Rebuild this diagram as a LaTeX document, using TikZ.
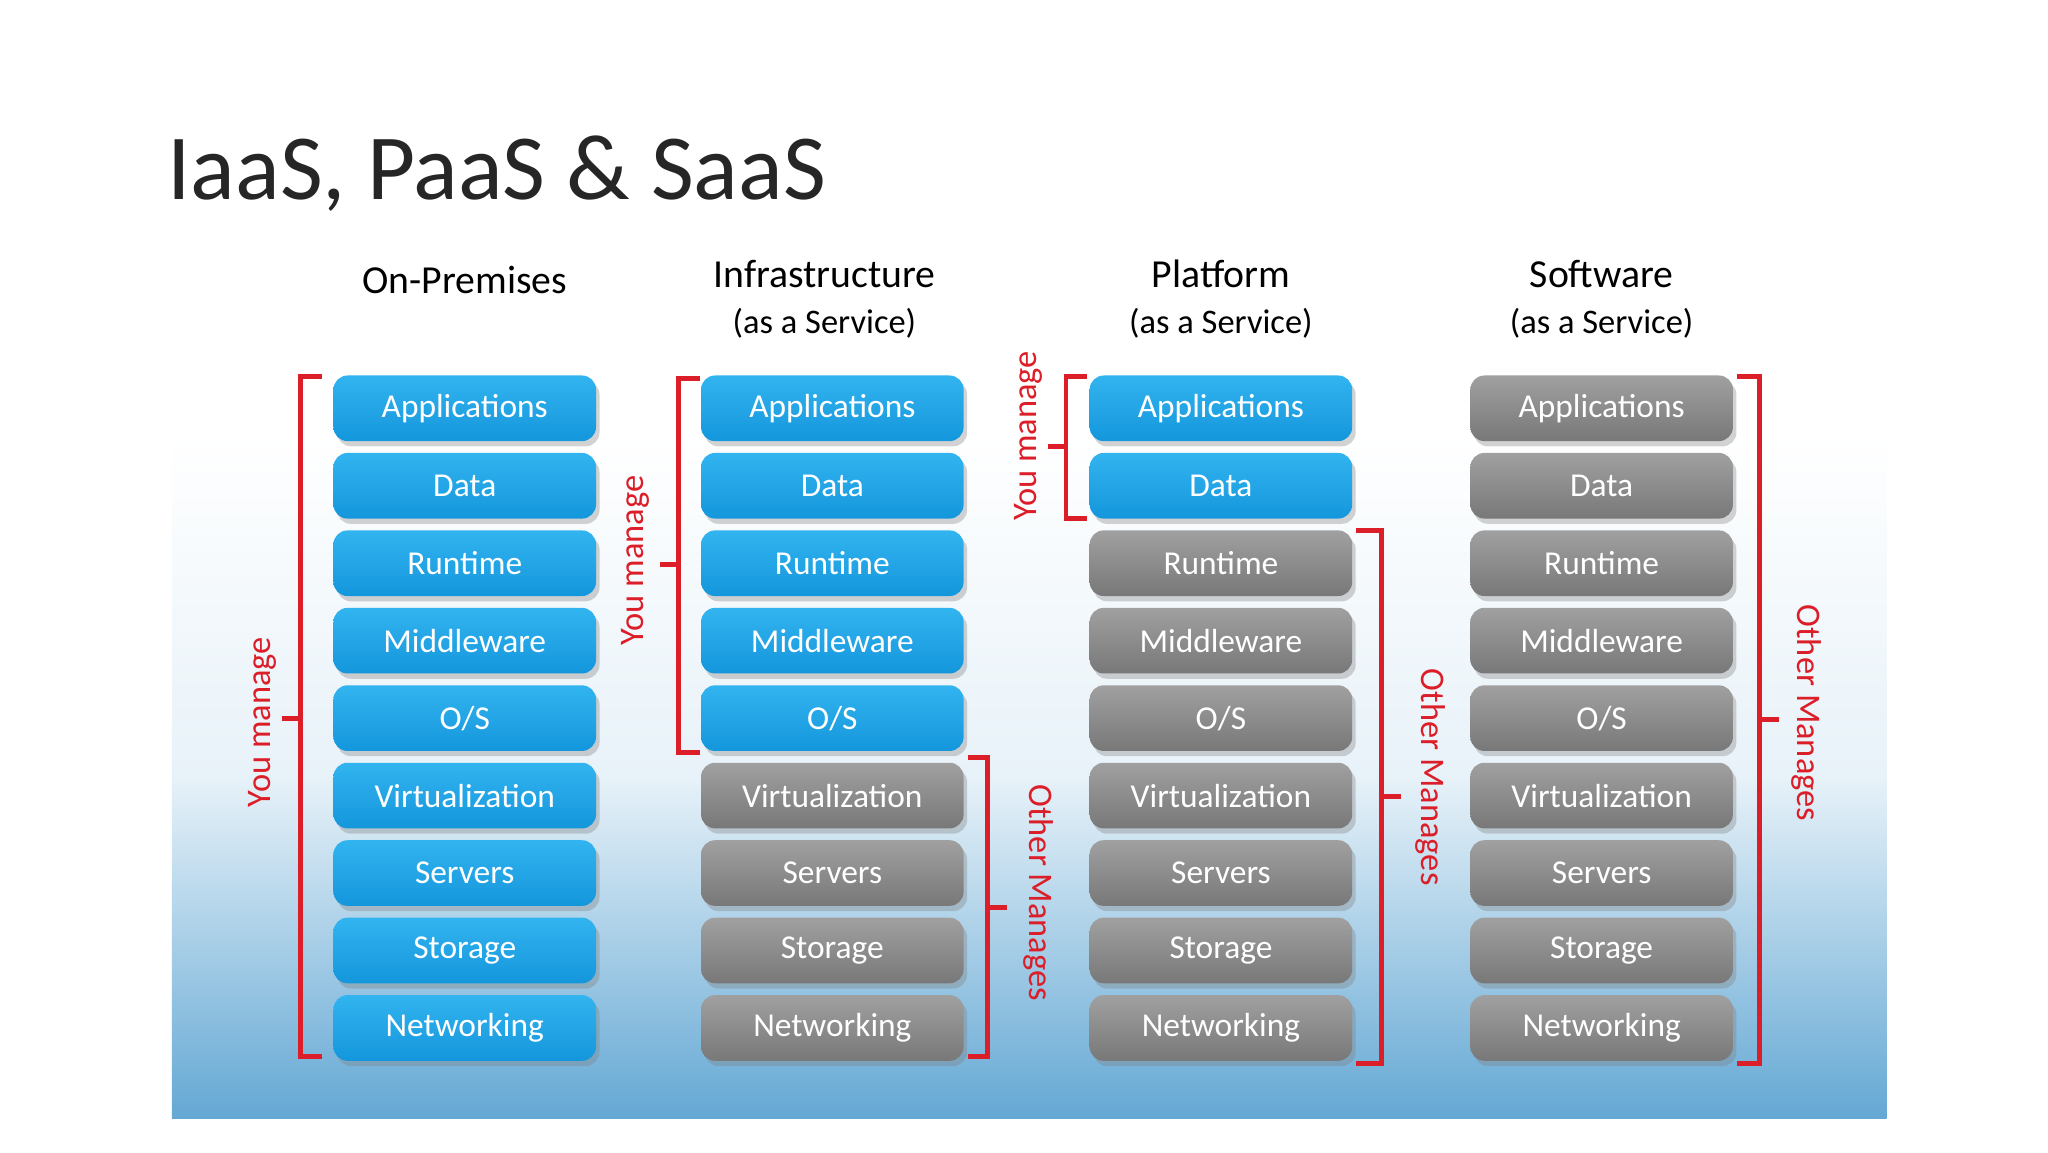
\documentclass[tikz,border=0pt]{standalone}
\usepackage{fontspec}
\setmainfont{Carlito}
\usetikzlibrary{shadows}
\definecolor{boxblue}{RGB}{20,150,220}
\definecolor{boxbluetop}{RGB}{50,180,240}
\definecolor{boxgray}{RGB}{120,120,120}
\definecolor{boxgraytop}{RGB}{160,160,160}
\definecolor{bgblue}{RGB}{100,168,212}
\definecolor{brred}{RGB}{220,30,40}
\begin{document}
\begin{tikzpicture}[x=0.013128cm,y=-0.013128cm,
  layer/.style={rounded corners=4pt,minimum width=200*0.013128cm,minimum height=50*0.013128cm,
    text=white,font=\fontsize{9.5}{11}\selectfont,drop shadow={opacity=0.35,shadow xshift=1pt,shadow yshift=-1.5pt}},
  blue layer/.style={layer,top color=boxbluetop,bottom color=boxblue},
  gray layer/.style={layer,top color=boxgraytop,bottom color=boxgray},
  bracket/.style={draw=brred,line width=1.4pt},
  blab/.style={text=brred,font=\fontsize{9.8}{11}\selectfont},
  head/.style={font=\fontsize{11.3}{12}\selectfont,align=center}]
\useasboundingbox (0,0) rectangle (1560,877.5);
\node[anchor=base west,font=\fontsize{26.5}{30}\selectfont,text=black!85] (title) at (118,152) {IaaS, PaaS \& SaaS};
\shade[top color=white,bottom color=bgblue,middle color=white!75!bgblue!60] (131,330) rectangle (1437,852);
\node[head] (h1) at (354,213) {On-Premises};
\node[head] (h2) at (628,228) {Infrastructure\\[1pt]{\fontsize{9.8}{11}\selectfont(as a Service)}};
\node[head] (h3) at (930,228) {Platform\\[1pt]{\fontsize{9.8}{11}\selectfont(as a Service)}};
\node[head] (h4) at (1220,228) {Software\\[1pt]{\fontsize{9.8}{11}\selectfont(as a Service)}};
\foreach \c/\x/\g in {1/354/10,2/634/6,3/930/3,4/1220/1}{
  \foreach \t [count=\i] in {Applications,Data,Runtime,Middleware,O/S,Virtualization,Servers,Storage,Networking}{
    \pgfmathsetmacro\yy{311+59*(\i-1)}
    \ifnum\i<\g
      \node[blue layer] (c\c r\i) at (\x,\yy) {\t};
    \else
      \node[gray layer] (c\c r\i) at (\x,\yy) {\t};
    \fi
  }
}
% brackets
\draw[bracket] (245,287) -- (229,287) -- (229,805) -- (245,805) (229,547) -- (215,547);
\node[blab,rotate=90] (l1) at (200,550) {You manage};
\draw[bracket] (533,288) -- (517,288) -- (517,573) -- (533,573) (517,430) -- (503,430);
\node[blab,rotate=90] (l2) at (484,427) {You manage};
\draw[bracket] (737,577) -- (752,577) -- (752,805) -- (737,805) (752,691) -- (767,691);
\node[blab,rotate=-90] (l3) at (791,680) {Other Manages};
\draw[bracket] (828,287) -- (812,287) -- (812,395) -- (828,395) (812,340) -- (798,340);
\node[blab,rotate=90] (l4) at (783,332) {You manage};
\draw[bracket] (1033,404) -- (1052,404) -- (1052,810) -- (1033,810) (1052,607) -- (1067,607);
\node[blab,rotate=-90] (l5) at (1090,592) {Other Manages};
\draw[bracket] (1323,287) -- (1340,287) -- (1340,810) -- (1323,810) (1340,548) -- (1355,548);
\node[blab,rotate=-90] (l6) at (1376,543) {Other Manages};
\end{tikzpicture}
\end{document}
